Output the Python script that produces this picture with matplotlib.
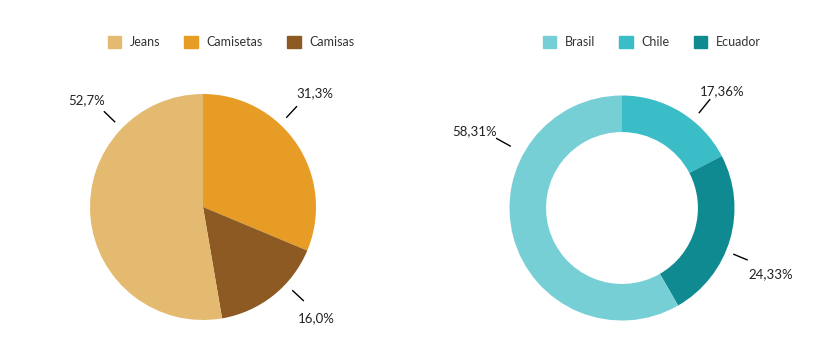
import matplotlib.pyplot as plt
import matplotlib.patches as mpatches
import numpy as np

plt.rcParams['font.family'] = ['Lato', 'DejaVu Sans']

# left pie: products
prod_names = ['Jeans', 'Camisetas', 'Camisas']
prod_values = [52.7, 31.3, 16.0]
prod_labels = ['52,7%', '31,3%', '16,0%']
prod_colors = ['#E4BA70', '#E79D25', '#8C5A22']

# right donut: countries
country_names = ['Brasil', 'Chile', 'Ecuador']
country_values = [58.31, 17.36, 24.33]
country_labels = ['58,31%', '17,36%', '24,33%']
country_colors = ['#77CFD6', '#3ABDC7', '#0F8A90']

# drawing order clockwise from 12 o'clock
draw_order = [1, 2, 0]


def draw(ax, names, values, labels, colors, width, label_pos, leg_x):
    vals = [values[i] for i in draw_order]
    cols = [colors[i] for i in draw_order]
    wp = dict(linewidth=0)
    if width is not None:
        wp['width'] = width
    ax.pie(vals, colors=cols, startangle=90, counterclock=False,
           radius=1, wedgeprops=wp)
    for i, (ang, r0, r1, rt) in enumerate(label_pos):
        a = np.deg2rad(ang)
        ax.plot([r0 * np.cos(a), r1 * np.cos(a)], [r0 * np.sin(a), r1 * np.sin(a)],
                color='black', lw=1, solid_capstyle='butt')
        ta = np.deg2rad(ang + (1.5 if ang > 90 else -1.5))
        ax.text(rt * np.cos(ta), rt * np.sin(ta), labels[i], ha='center', va='center',
                fontsize=9.5, color='#222222')
    handles = [mpatches.Patch(color=c, label=n) for n, c in zip(names, colors)]
    ax.legend(handles=handles, ncol=3, loc='center', bbox_to_anchor=(leg_x, 0.883),
              frameon=False, fontsize=9, handlelength=1.1, handleheight=1.1,
              handletextpad=0.7, columnspacing=1.9, labelcolor='#333333')


def place(ax, cx, cy, r, x0, x1):
    # map data units to figure pixels: center (cx, cy), r px per unit
    ax.set_aspect('auto')
    ax.set_xlim((x0 - cx) / r, (x1 - cx) / r)
    ax.set_ylim((cy - 359) / r, cy / r)
    ax.axis('off')


fig = plt.figure(figsize=(8.4, 3.59), dpi=100)

ax1 = fig.add_axes([0, 0, 0.5, 1])
draw(ax1, prod_names, prod_values, prod_labels, prod_colors, None,
     [(136, 1.08, 1.22, 1.40), (47, 1.08, 1.22, 1.41), (-43, 1.08, 1.22, 1.40)],
     0.55)
place(ax1, 203, 207, 113, 0, 420)

ax2 = fig.add_axes([0.5, 0, 0.5, 1])
draw(ax2, country_names, country_values, country_labels, country_colors, 0.325,
     [(151, 1.13, 1.28, 1.48), (51, 1.085, 1.245, 1.37), (-22.5, 1.07, 1.21, 1.45)],
     0.552)
place(ax2, 622, 208, 112.5, 420, 840)

fig.savefig('out.png', dpi=100)
